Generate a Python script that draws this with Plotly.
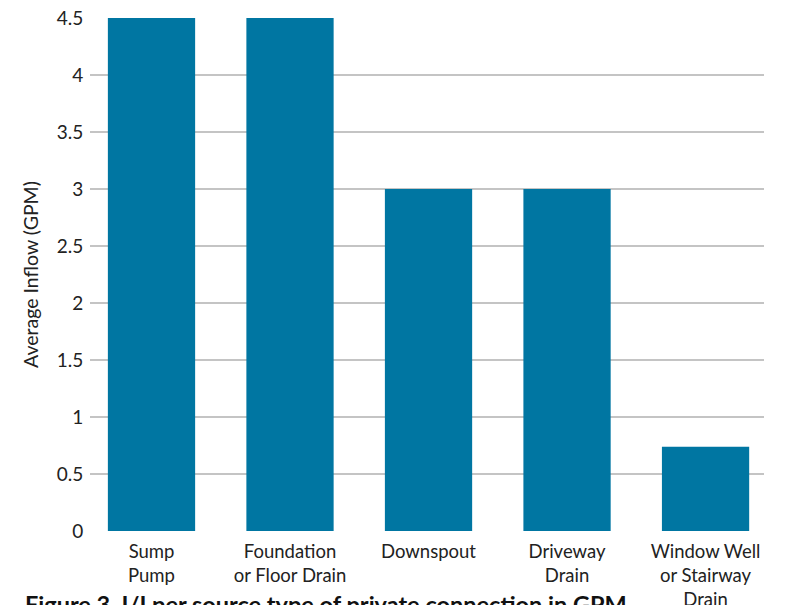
import plotly.graph_objects as go

# Average inflow by private-connection source type
categories = [
    "Sump<br>Pump",
    "Foundation<br>or Floor Drain",
    "Downspout",
    "Driveway<br>Drain",
    "Window Well<br>or Stairway<br>Drain",
]
avg_inflow_gpm = [4.5, 4.5, 3.0, 3.0, 0.74]
y_ticks = [0, 0.5, 1, 1.5, 2, 2.5, 3, 3.5, 4, 4.5]
y_tick_text = ["0", "0.5", "1", "1.5", "2", "2.5", "3", "3.5", "4", "4.5"]

BAR_COLOR = "#0076A2"
TEXT_COLOR = "#222222"
GRID_COLOR = "#c4c4c4"
FONT = "Lato, 'Noto Sans', sans-serif"

fig = go.Figure(
    go.Bar(
        x=list(range(len(categories))),
        y=avg_inflow_gpm,
        marker=dict(color=BAR_COLOR, line=dict(width=0)),
        width=0.63,
        hoverinfo="y",
    )
)

fig.update_layout(
    width=790,
    height=605,
    margin=dict(l=90, r=26, t=18, b=74),
    paper_bgcolor="white",
    plot_bgcolor="white",
    showlegend=False,
    font=dict(family=FONT, size=19, color=TEXT_COLOR),
    xaxis=dict(
        tickmode="array",
        tickvals=list(range(len(categories))),
        ticktext=categories,
        range=[-0.444, 4.422],
        showgrid=False,
        zeroline=False,
        showline=False,
        ticks="outside",
        ticklen=4,
        tickcolor="white",
        automargin=False,
        tickfont=dict(size=18.5, color=TEXT_COLOR),
    ),
    yaxis=dict(
        range=[0, 4.5],
        tickmode="array",
        tickvals=y_ticks,
        ticktext=y_tick_text,
        showgrid=True,
        gridcolor=GRID_COLOR,
        gridwidth=2,
        zeroline=False,
        showline=False,
        ticks="outside",
        ticklen=2,
        tickcolor="white",
        automargin=False,
        tickfont=dict(size=19, color=TEXT_COLOR),
        title=dict(text="Average Inflow (GPM)", font=dict(size=19.5, color=TEXT_COLOR), standoff=12),
    ),
    annotations=[
        dict(
            text="<b>Figure 3. I/I per source type of private connection in GPM</b>",
            xref="paper",
            yref="paper",
            x=-0.1,
            y=-0.112,
            xanchor="left",
            yanchor="top",
            showarrow=False,
            font=dict(family=FONT, size=23.5, color="#111111"),
        )
    ],
)

fig.write_html("out.html")
